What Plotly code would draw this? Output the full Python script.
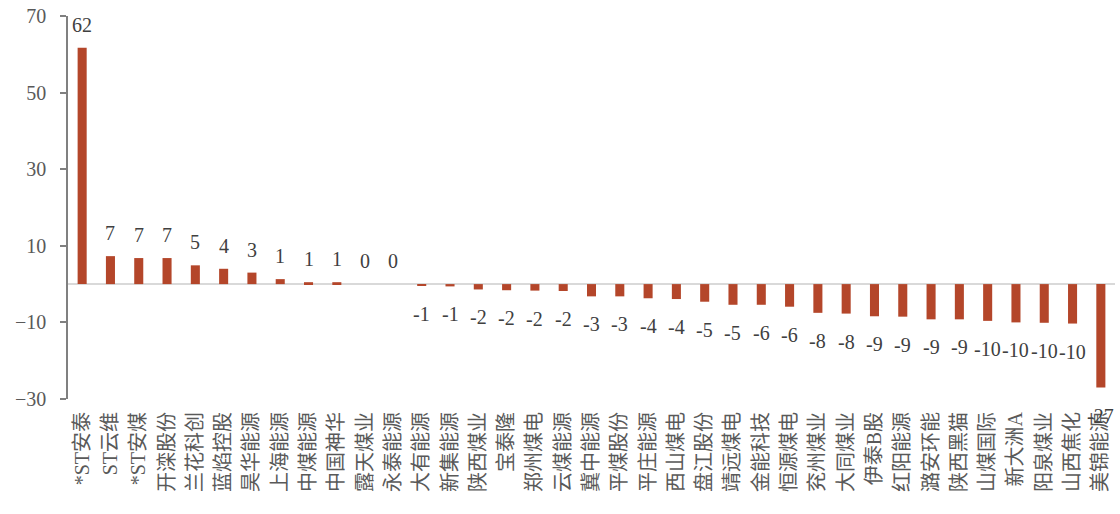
import plotly.graph_objects as go

categories = ["*ST安泰", "ST云维", "*ST安煤", "开滦股份", "兰花科创", "蓝焰控股", "昊华能源",
              "上海能源", "中煤能源", "中国神华", "露天煤业", "永泰能源", "大有能源", "新集能源",
              "陕西煤业", "宝泰隆", "郑州煤电", "云煤能源", "冀中能源", "平煤股份", "平庄能源",
              "西山煤电", "盘江股份", "靖远煤电", "金能科技", "恒源煤电", "兖州煤业", "大同煤业",
              "伊泰B股", "红阳能源", "潞安环能", "陕西黑猫", "山煤国际", "新大洲A", "阳泉煤业",
              "山西焦化", "美锦能源"]
values = [61.7, 7.3, 6.8, 6.8, 4.9, 4.0, 3.0, 1.3, 0.5, 0.5, 0.0, 0.0, -0.5, -0.6,
          -1.4, -1.6, -1.7, -1.8, -3.2, -3.2, -3.7, -3.9, -4.6, -5.4, -5.4, -5.9,
          -7.5, -7.7, -8.4, -8.5, -9.2, -9.2, -9.6, -10.0, -10.1, -10.3, -27.0]
labels = ["62", "7", "7", "7", "5", "4", "3", "1", "1", "1", "0", "0", "-1", "-1",
          "-2", "-2", "-2", "-2", "-3", "-3", "-4", "-4", "-5", "-5", "-6", "-6",
          "-8", "-8", "-9", "-9", "-9", "-9", "-10", "-10", "-10", "-10", "-27"]
y_ticks = [70, 50, 30, 10, -10, -30]

BAR = "#B4462A"
SERIF = "Liberation Serif, Times New Roman, Noto Sans CJK SC, serif"

fig = go.Figure()
fig.add_trace(go.Bar(x=categories, y=values, marker=dict(color=BAR, line=dict(width=0)),
                     width=0.32, hoverinfo="skip"))

for c, v, t in zip(categories, values, labels):
    fig.add_annotation(x=c, y=v, text=t, showarrow=False, xanchor="center", yanchor="middle",
                       yshift=23 if v >= 0 else -28,
                       font=dict(family=SERIF, size=20, color="#404040"))

fig.update_layout(
    width=1120, height=514,
    margin=dict(l=68, r=5, t=16, b=115),
    paper_bgcolor="white", plot_bgcolor="white",
    showlegend=False,
    xaxis=dict(type="category", range=[-0.5, len(categories) - 0.5], tickangle=-90,
               showline=False, showgrid=False, zeroline=False, ticks="",
               ticklabelstandoff=8,
               tickfont=dict(family=SERIF, size=20, color="#595959")),
    yaxis=dict(range=[-30, 70], tickvals=y_ticks, showgrid=False,
               zeroline=True, zerolinecolor="#D9D9D9", zerolinewidth=2,
               showline=True, linecolor="#808080", linewidth=1.5,
               ticks="outside", ticklen=6, tickcolor="#808080", tickwidth=1.5,
               ticklabelstandoff=10,
               tickfont=dict(family=SERIF, size=20, color="#595959")),
)

fig.write_html("out.html")
